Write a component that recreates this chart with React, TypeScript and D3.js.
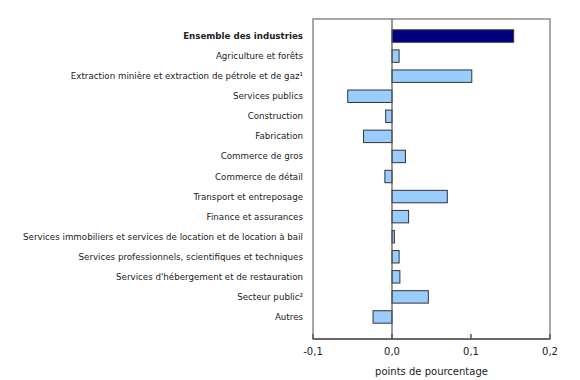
import React, { useEffect, useRef } from 'react';
import * as d3 from 'd3';

const industries = [
  'Ensemble des industries',
  'Agriculture et forêts',
  'Extraction minière et extraction de pétrole et de gaz¹',
  'Services publics',
  'Construction',
  'Fabrication',
  'Commerce de gros',
  'Commerce de détail',
  'Transport et entreposage',
  'Finance et assurances',
  'Services immobiliers et services de location et de location à bail',
  'Services professionnels, scientifiques et techniques',
  "Services d'hébergement et de restauration",
  'Secteur public²',
  'Autres',
];
const contributions = [
  0.154, 0.009, 0.101, -0.056, -0.008, -0.036, 0.017, -0.009, 0.07, 0.021, 0.003, 0.009, 0.01, 0.046, -0.024,
];
const xTicks = [-0.1, 0, 0.1, 0.2];
const xTitle = 'points de pourcentage';

const App: React.FC = () => {
  const svgRef = useRef<SVGSVGElement>(null);

  useEffect(() => {
    if (!svgRef.current) return;
    const svg = d3.select(svgRef.current);
    svg.selectAll('*').remove();

    const left = 313, right = 550, top = 19, bottom = 339;
    const font = 'Verdana, "DejaVu Sans", sans-serif';

    const x = d3.scaleLinear().domain([-0.1, 0.2]).range([left, right]);
    const y = d3.scaleBand<string>().domain(industries).range([26, 327]).paddingInner(0.38).paddingOuter(0.19);

    // frame
    svg.append('rect')
      .attr('x', left).attr('y', top)
      .attr('width', right - left).attr('height', bottom - top)
      .attr('fill', 'none').attr('stroke', '#8c8c8c').attr('stroke-width', 1.5);

    // bars
    svg.append('g').selectAll('rect')
      .data(industries)
      .join('rect')
      .attr('x', (d, i) => x(Math.min(0, contributions[i])))
      .attr('y', d => y(d)!)
      .attr('width', (d, i) => Math.abs(x(contributions[i]) - x(0)))
      .attr('height', y.bandwidth())
      .attr('fill', (d, i) => (i === 0 ? '#000080' : '#99ccff'))
      .attr('stroke', '#333')
      .attr('stroke-width', 1);

    // zero line
    svg.append('line')
      .attr('x1', x(0)).attr('x2', x(0))
      .attr('y1', top).attr('y2', bottom)
      .attr('stroke', '#555').attr('stroke-width', 1.2);

    // bottom axis
    svg.append('line')
      .attr('x1', left).attr('x2', right)
      .attr('y1', bottom).attr('y2', bottom)
      .attr('stroke', '#555').attr('stroke-width', 1.5);

    const ticks = svg.append('g');
    ticks.selectAll('line')
      .data(xTicks)
      .join('line')
      .attr('x1', d => x(d)).attr('x2', d => x(d))
      .attr('y1', bottom).attr('y2', bottom - 5)
      .attr('stroke', '#555').attr('stroke-width', 1.5);
    ticks.selectAll('text')
      .data(xTicks)
      .join('text')
      .attr('x', d => x(d))
      .attr('y', 355)
      .attr('text-anchor', 'middle')
      .attr('font-family', font)
      .attr('font-size', 10)
      .attr('fill', '#222')
      .text(d => d3.format('.1f')(d).replace('.', ',').replace('−', '-'));

    svg.append('text')
      .attr('x', x(0.05))
      .attr('y', 375)
      .attr('text-anchor', 'middle')
      .attr('font-family', font)
      .attr('font-size', 10)
      .attr('fill', '#222')
      .text(xTitle);

    // category labels
    svg.append('g').selectAll('text')
      .data(industries)
      .join('text')
      .attr('x', 303)
      .attr('y', d => y(d)! + y.bandwidth() / 2)
      .attr('dy', '0.35em')
      .attr('text-anchor', 'end')
      .attr('font-family', font)
      .attr('font-size', 8.7)
      .attr('font-weight', (d, i) => (i === 0 ? 'bold' : 'normal'))
      .attr('fill', '#222')
      .text(d => d);
  }, []);

  return (
    <svg
      ref={svgRef}
      width={580}
      height={380}
      style={{ position: 'absolute', left: 0, top: 0, background: '#fff' }}
    />
  );
};

export default App;
